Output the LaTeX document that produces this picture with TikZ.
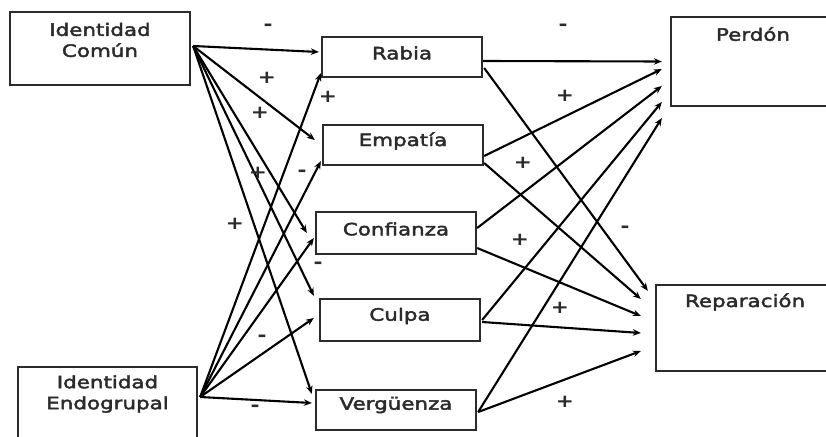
\documentclass[tikz,border=0pt]{standalone}
\usepackage{fontspec}
\usetikzlibrary{arrows.meta,calc}
\newfontfamily\labfont[FakeStretch=1.26,FakeBold=2.5]{DejaVu Sans}
\newfontfamily\sgnfont[FakeStretch=1.2]{DejaVu Sans Bold}
\definecolor{ink}{HTML}{2B2B2B}
\begin{document}
\begin{tikzpicture}[x=1pt,y=-1pt,
  box/.style={draw=ink,line width=2.3pt,rectangle,inner sep=0pt},
  txt/.style={font=\labfont\fontsize{17}{21}\selectfont,text=ink,align=center,inner sep=0pt},
  sgn/.style={font=\sgnfont\fontsize{18}{21}\selectfont,text=ink,inner sep=0pt},
  arr/.style={-{Stealth[length=8pt,width=6.5pt]},line width=2.1pt,draw=black}]
\useasboundingbox (0,0) rectangle (826,436);
\clip (0,0) rectangle (826,436);
\fill[white] (0,0) rectangle (826,436);
% boxes
\node[box,minimum width=180pt,minimum height=73pt] (ic) at (100,48.5) {};
\node[txt] (ict) at (100,40) {Identidad\\Común};
\node[box,minimum width=179pt,minimum height=73pt] (ie) at (107.5,403.5) {};
\node[txt] (iet) at (107.5,394) {Identidad\\Endogrupal};
\node[box,minimum width=160pt,minimum height=40pt] (rab) at (402,57) {};
\node[txt] (rabt) at (402,53) {Rabia};
\node[box,minimum width=160pt,minimum height=40pt] (emp) at (403,145) {};
\node[txt] (empt) at (403,141) {Empatía};
\node[box,minimum width=160pt,minimum height=42pt] (con) at (396,233) {};
\node[txt] (cont) at (396,229) {Confianza};
\node[box,minimum width=160pt,minimum height=42pt] (cul) at (400,320) {};
\node[txt] (cult) at (400,316) {Culpa};
\node[box,minimum width=160pt,minimum height=40pt] (ver) at (396,410) {};
\node[txt] (vert) at (396,405) {Vergüenza};
\node[box,minimum width=180pt,minimum height=89pt] (per) at (761,61.5) {};
\node[txt] (pert) at (753,34) {Perdón};
\node[box,minimum width=190pt,minimum height=86pt] (rep) at (751,328) {};
\node[txt] (rept) at (745,302) {Reparación};
% from Identidad Comun
\draw[arr] ($(ic.east)+(2,-2.5)$) -- ($(rab.west)+(-2,-5)$);
\draw[arr] ($(ic.east)+(2,-2.5)$) -- ($(emp.west)+(-7,-5)$);
\draw[arr] ($(ic.east)+(2,-2.5)$) -- ($(con.west)+(-8,0)$);
\draw[arr] ($(ic.east)+(2,-2.5)$) -- ($(cul.north west)+(-5,-2)$);
\draw[arr] ($(ic.east)+(2,-2.5)$) -- ($(ver.north west)+(-3,5)$);
% from Identidad Endogrupal
\draw[arr] ($(ie.east)+(2,-6.5)$) -- ($(rab.south west)+(0,-5)$);
\draw[arr] ($(ie.east)+(2,-6.5)$) -- ($(emp.south west)+(-1,-5)$);
\draw[arr] ($(ie.east)+(2,-6.5)$) -- ($(con.west)+(-1,5)$);
\draw[arr] ($(ie.east)+(2,-6.5)$) -- ($(cul.west)+(-5,-2)$);
\draw[arr] ($(ie.east)+(2,-6.5)$) -- ($(ver.west)+(-3,-7)$);
% to Perdon
\draw[arr] ($(rab.east)+(0,4)$) -- ($(per.west)+(-8,0)$);
\draw[arr] ($(emp.east)+(0,11)$) -- ($(per.west)+(-8,7.5)$);
\draw[arr] ($(con.east)+(0,-5)$) -- ($(per.west)+(-8,24.5)$);
\draw[arr] ($(cul.east)+(1,0)$) -- ($(per.west)+(-8,40.5)$);
\draw[arr] ($(ver.east)+(1,2)$) -- ($(per.west)+(-8,56.5)$);
% to Reparacion
\draw[arr] ($(rab.east)+(1,11)$) -- ($(rep.north west)+(-7,7)$);
\draw[arr] ($(emp.east)+(0,18)$) -- ($(rep.west)+(-14,-29)$);
\draw[arr] ($(con.east)+(0,15)$) -- ($(rep.west)+(-14,-12)$);
\draw[arr] ($(cul.east)+(1,2)$) -- ($(rep.west)+(-14,5)$);
\draw[arr] ($(ver.east)+(1,2)$) -- ($(rep.west)+(-14,23)$);
% signs
\node[sgn] (s1) at (268,27) {-};
\node[sgn] (s2) at (267,78) {+};
\node[sgn] (s3) at (260,113) {+};
\node[sgn] (s4) at (328,97) {+};
\node[sgn] (s5) at (258,173) {+};
\node[sgn] (s6) at (302,173) {-};
\node[sgn] (s7) at (235,224) {+};
\node[sgn] (s8) at (318,265) {-};
\node[sgn] (s9) at (262,338) {-};
\node[sgn] (s10) at (255,408) {-};
\node[sgn] (s11) at (563,27) {-};
\node[sgn] (s12) at (565,96) {+};
\node[sgn] (s13) at (523,163) {+};
\node[sgn] (s14) at (520,240) {+};
\node[sgn] (s15) at (625,229) {-};
\node[sgn] (s16) at (560,308) {+};
\node[sgn] (s17) at (565,402) {+};
\end{tikzpicture}
\end{document}
